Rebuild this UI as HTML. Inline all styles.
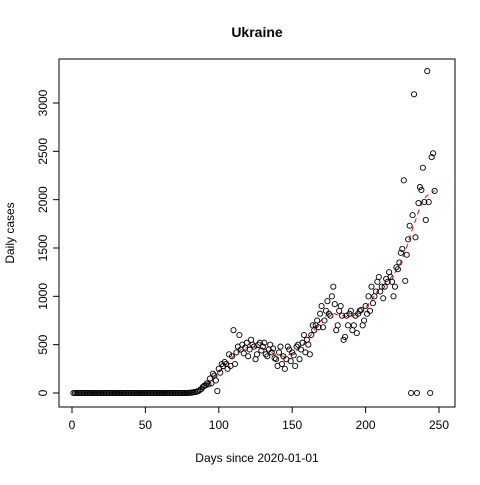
<!DOCTYPE html>
<html><head><meta charset="utf-8"><style>
body{margin:0;background:#fff}
svg text{font-family:"Liberation Sans",Arial,sans-serif;font-size:12px}
</style></head><body>
<svg id="c" width="480" height="480"></svg>
<script>
const earlyValues = [0,0,0,0,0,0,0,0,0,0,0,0,0,0,0,0,0,0,0,0,0,0,0,0,0,0,0,0,0,0,0,0,0,0,0,0,0,0,0,0,0,0,0,0,0,0,0,0,0,0,0,0,0,0,0,0,0,0,0,0,0,0,0,0,0,0,0,0,0,0,0,0,0,0,0,0,0,0];
const midValues = [1,2,3,5,8,10,15,20,30,40,60,75,
80,100,90,150,100,200,180,130,20,250,
210,300,280,320,300,250,400,280,380,650,
300,420,480,600,450,500,410,470,520,380,
450,550,500,480,350,400,500,520,440,480,
520,400,380,450,500,420,460,360,350,280,
420,480,300,380,250,350,480,450,330,420,
390,280,480,500,350,450,520,600,420,550,
500,400,600,700,650,700,750,680,820,900,
680,750,850,950,820,800,1000,1100,920,650,
700,850,900,800,550,580,800,700,820,850,
650,700,800,620,820,850,860,700,750];
const lateValues = [900,820,1000,850,1100,930,1000,1050,1150,1200,1050,1100,980,1100,1180,1150,1250,1200,1150,1000,1100,1300,1280,1350,1450,1490,2200,1160,1430,1590,1730,0,1840,3090,1610,0,1965,2130,2100,2330,1975,1790,3330,1975,0,2440,2480,2090];
const yTicks = [0,500,1000,1500,2000,2500,3000];
const xTicks = [0,50,100,150,200,250];

const values = earlyValues.concat(midValues, lateValues);
const L=59,R=455,T=59,B=407;
const xs = d => 72 + d*1.468;
const ys = v => 393 - v*0.09667;
const svg = document.getElementById('c');
const NS='http://www.w3.org/2000/svg';
function mk(tag, attrs, txt){const e=document.createElementNS(NS,tag);for(const k in attrs)e.setAttribute(k,attrs[k]);if(txt!==undefined)e.textContent=txt;svg.appendChild(e);return e;}

let e = mk('rect',{x:L,y:T,width:R-L,height:B-T,fill:'none',stroke:'#000'});



e = mk('text',{x:257,y:37,'text-anchor':'middle','font-weight':'bold','style':'font-size:14px'},'Ukraine');


e = mk('text',{x:257,y:462,'text-anchor':'middle'},'Days since 2020-01-01');


e = mk('text',{x:14,y:233,'text-anchor':'middle',transform:'rotate(-90 14 233)'},'Daily cases');



mk('line',{x1:xs(0),x2:xs(250),y1:B,y2:B,stroke:'#000'});
xTicks.forEach(t=>{
  mk('line',{x1:xs(t),x2:xs(t),y1:B,y2:B+6,stroke:'#000'});
  e = mk('text',{x:xs(t),y:B+22,'text-anchor':'middle'},String(t));
  
  
});
mk('line',{x1:L,x2:L,y1:ys(0),y2:ys(3000),stroke:'#000'});
yTicks.forEach(t=>{
  mk('line',{x1:L-6,x2:L,y1:ys(t),y2:ys(t),stroke:'#000'});
  const x=L-12;
  e = mk('text',{x:x,y:ys(t),'text-anchor':'middle',transform:`rotate(-90 ${x} ${ys(t)})`},String(t));
  
  
});

const sm=[];
for(let i=0;i<values.length;i++){
  const w=values.slice(Math.max(0,i-6),Math.min(values.length,i+7)).slice().sort((a,b)=>a-b);
  sm.push(w[Math.floor(w.length/2)]);
}
const sm2=sm.map((v,i)=>{const w=sm.slice(Math.max(0,i-6),Math.min(sm.length,i+7));return w.reduce((a,b)=>a+b,0)/w.length;});
e = mk('polyline',{points:sm2.map((v,i)=>xs(i+1)+','+ys(v)).join(' '),fill:'none',stroke:'#ff0000','stroke-dasharray':'5,4'});



values.forEach((v,i)=>{
  const c = mk('circle',{cx:xs(i+1),cy:ys(v),r:2.6,fill:'none',stroke:'#000','stroke-width':0.9});
  
  
});
</script>
</body></html>
